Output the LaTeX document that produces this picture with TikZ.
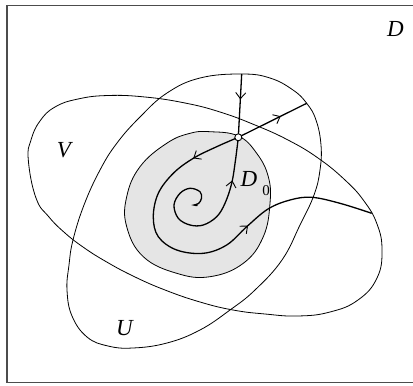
\documentclass[tikz,border=0pt]{standalone}
\usepackage{fontspec}
\setmainfont{Liberation Serif}
\usetikzlibrary{decorations.markings,arrows.meta}
\begin{document}
\begin{tikzpicture}[x=1pt,y=-1pt,
  region/.style={line width=0.8pt},
  traj/.style={line width=1.3pt},
  lbl/.style={font=\fontsize{23}{23}\selectfont\itshape, inner sep=0pt},
  sublbl/.style={font=\fontsize{15}{15}\selectfont, inner sep=0pt},
  mk/.style={postaction={decorate,decoration={markings,
    mark=at position #1 with {\arrow{Straight Barb[length=6pt,width=10pt,line width=0.9pt]}}}}}
]
\useasboundingbox (0,0) rectangle (413,386);
% frame (right side cut off)
\draw[line width=1.2pt, black!70] (414,5.5) -- (7,5.5) -- (7,382.5) -- (414,382.5);

% shaded region D0
\fill[black!10] plot[smooth cycle, tension=0.7] coordinates {
 (210,131.7) (238.3,136) (256.7,153.3) (268.3,176.7) (270,203.3) (263.3,236.7)
 (243.3,263.3) (210,276.7) (176.7,273.3) (143.3,256.7) (126.7,226.7) (126.7,196.7)
 (140,166.7) (166.7,143.3) (190,133.3)};
\draw[region] plot[smooth cycle, tension=0.7] coordinates {
 (210,131.7) (238.3,136) (256.7,153.3) (268.3,176.7) (270,203.3) (263.3,236.7)
 (243.3,263.3) (210,276.7) (176.7,273.3) (143.3,256.7) (126.7,226.7) (126.7,196.7)
 (140,166.7) (166.7,143.3) (190,133.3)};

% region U
\draw[region] plot[smooth cycle, tension=0.7] coordinates {
 (241.7,74) (270,78) (293,90) (306.7,103.3) (316,120) (321,145) (320,170) (314,195)
 (300,225) (282,260) (255,290) (230,310) (200,330) (167,343) (133,348) (108,346)
 (87,337) (72,316) (67,290) (69,265) (73,240) (84,205) (100,170) (117,143) (140,117)
 (167,93) (200,78)};

% region V
\draw[region] plot[smooth cycle, tension=0.75] coordinates {
 (28.3,160) (31,140) (40,121) (55,107) (78,99) (108,95.5) (145,97) (185,103)
 (220,112) (255,125) (288,140) (318,158) (345,180) (364,201) (377,224) (382,250)
 (377,278) (358,300) (330,312) (298,316) (265,314) (233,310) (200,302) (165,290)
 (133,276) (105,261) (83,247) (65,233) (49,217) (36,198)};

% singular point and trajectory ends
\coordinate (s) at (238.3,137.3);
\coordinate (top) at (241.7,74);
\coordinate (ur) at (306.7,103.3);
\coordinate (rend) at (371.7,213.3);
\coordinate (c) at (194,205);

\draw[traj, mk=0.4] (top) -- (s);
\draw[traj, mk=0.62] (s) -- (ur);
\draw[traj, mk=0.13, mk=0.65] plot[smooth, tension=0.6] coordinates {
 (s) (216.7,146.7) (193.3,158.3) (173.3,173.3) (158.3,193.3) (153.3,216.7)
 (158.3,236.7) (176.7,250) (203.3,253.3) (226.7,245) (246.7,226.7) (268,209)
 (290,200) (311.7,197.3) (340,203.3) (rend)};
\draw[traj, mk=0.78] plot[smooth, tension=0.6] coordinates {
 (197.5,205.5) (c) (198.5,203.5) (201.5,198.3) (200,191.7) (190,188.3) (180,193.3)
 (174,205) (178.3,218.3) (190,225) (203.3,225) (216.7,216.7) (225,203.3)
 (231.7,183.3) (235.5,160) (s)};

\node[circle, draw, fill=white, line width=0.9pt, inner sep=0pt, minimum size=7pt] (sp) at (s) {};

% labels
\node[lbl] (lD) at (395.5,29) {D};
\node[lbl] (lV) at (64,150) {V};
\node[lbl] (lU) at (124.5,328.5) {U};
\node[lbl] (lD0) at (249,179) {D};
\node[sublbl] (l0) at (266,191) {0};
\end{tikzpicture}
\end{document}
